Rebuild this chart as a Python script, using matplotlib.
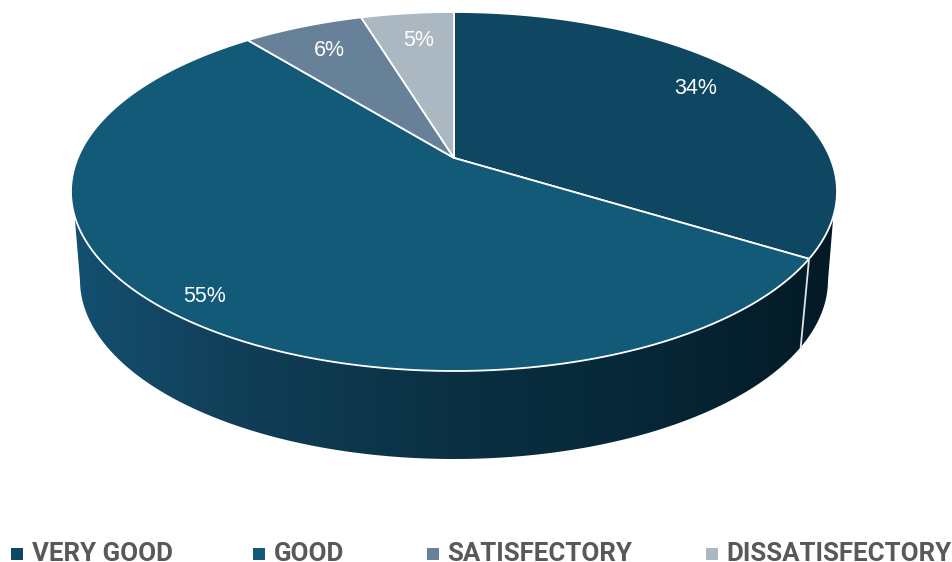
import numpy as np
import matplotlib
matplotlib.use('Agg')
import matplotlib.pyplot as plt
from matplotlib.colors import LinearSegmentedColormap
from matplotlib.patches import Polygon, Rectangle

categories = ['VERY GOOD', 'GOOD', 'SATISFECTORY', 'DISSATISFECTORY']
values = [33.8, 55.4, 6.1, 4.7]
colors = ['#0f4763', '#135a79', '#678198', '#abb7c1']

# pie geometry in pixels, top face and bottom rim
cx, cy, rx, ry = 454, 191.5, 383, 179.5
low_cy, low_rx, low_ry = 280, 374, 179
tilt = 0.187  # moves the apex up from the ellipse centre

wall_stops = [(0.0, '#145070'), (0.2, '#113f59'), (0.5, '#0a3042'),
              (0.72, '#07293a'), (0.88, '#05202d'), (1.0, '#041a26')]
label_pos = [(696, 88), (205, 296), (329, 50), (419, 40)]
legend_x = [11, 253, 427, 706]


def to_unit(theta):
    ux, uy = np.sin(theta), np.cos(theta)
    d = 1 + tilt * uy
    return ux * np.sqrt(1 - tilt ** 2) / d, (uy + tilt) / d


def top_pt(theta):
    x, y = to_unit(theta)
    return cx + rx * x, cy - ry * y


def low_pt(theta):
    x, y = to_unit(theta)
    return cx + low_rx * x, low_cy - low_ry * y


fig = plt.figure(figsize=(9.52, 5.62), dpi=100)
ax = fig.add_axes([0, 0, 1, 1])
ax.set_xlim(0, 952)
ax.set_ylim(562, 0)
ax.axis('off')

# side wall
t = np.linspace(0, 2 * np.pi, 721)
tx, ty = top_pt(t)
lx, ly = low_pt(t)
front_top = ty > 215
front_low = ly > 280
wall = np.vstack([np.column_stack([tx[front_top], ty[front_top]]),
                  np.column_stack([lx[front_low], ly[front_low]])[::-1]])
wall_patch = Polygon(wall, closed=True, fc='none', ec='none')
ax.add_patch(wall_patch)
cmap = LinearSegmentedColormap.from_list('wall', wall_stops)
im = ax.imshow(np.linspace(0, 1, 256).reshape(1, -1), cmap=cmap, aspect='auto',
               extent=[wall[:, 0].min(), wall[:, 0].max(), 470, 200], zorder=1)
im.set_clip_path(wall_patch)
ax.set_xlim(0, 952)
ax.set_ylim(562, 0)

# top face
edges = np.cumsum([0] + values) / sum(values) * 2 * np.pi
for i in range(len(values)):
    arc = np.linspace(edges[i], edges[i + 1], 200)
    ax_, ay_ = top_pt(arc)
    pts = np.vstack([[cx, cy - ry * tilt], np.column_stack([ax_, ay_])])
    ax.add_patch(Polygon(pts, closed=True, fc=colors[i], ec='white', lw=1.3,
                         joinstyle='round', zorder=2))
    ax.text(*label_pos[i], '%.0f%%' % values[i], color='white', fontsize=15.5,
            family='Liberation Sans', ha='center', va='center', zorder=4)

# dividers on the visible wall
for e in edges[1:-1]:
    if np.cos(e) < 0:
        x0, y0 = top_pt(e)
        x1, y1 = low_pt(e)
        ax.plot([x0, x1], [y0, y1], color='#dfe4e7', lw=1.3, zorder=3)

# legend
for x, name, c in zip(legend_x, categories, colors):
    ax.add_patch(Rectangle((x, 548), 11.5, 11.5, fc=c, ec='none'))
    ax.text(x + 20.5, 561, name, color='#595959', fontsize=18.6, fontweight='bold',
            family='Roboto', ha='left', va='baseline')

fig.savefig('out.png', dpi=100)
